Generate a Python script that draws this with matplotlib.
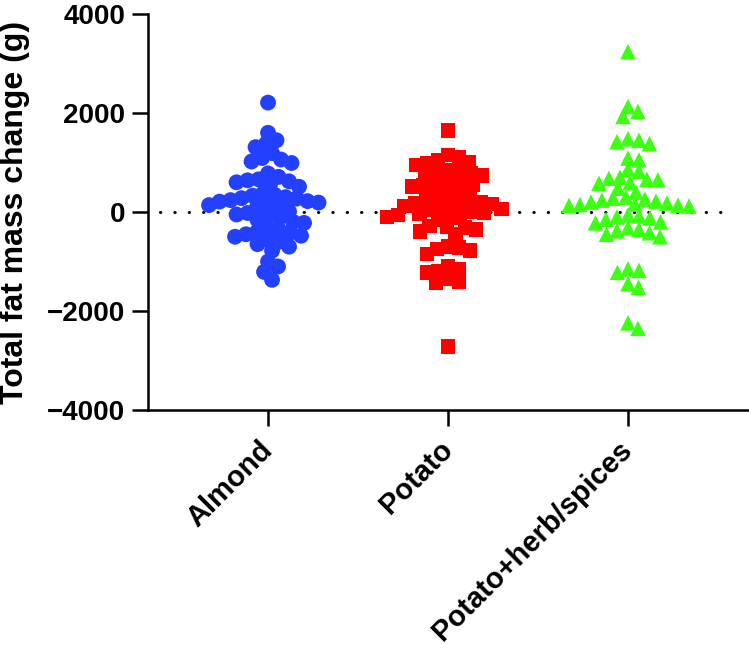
import numpy as np
import matplotlib
matplotlib.use("Agg")
import matplotlib.pyplot as plt

plt.rcParams['font.family'] = ['Liberation Sans', 'DejaVu Sans']
plt.rcParams['font.weight'] = 'bold'

categories = ["Almond", "Potato", "Potato+herb/spices"]

# values (g)
almond = [2210, 1600, 1450, 1380, 1310, 1190, 1090, 1060, 1020, 990, 780,
          710, 660, 640, 620, 600, 560, 510,
          380, 350, 330, 300, 280, 270, 240, 220, 210, 190, 160, 140, 120, 100,
          10, -20, -50, -80, -120, -160, -200, -220,
          -340, -360, -400, -420, -450, -480, -500, -570, -600, -650, -700,
          -780, -1000, -1100, -1210, -1370]
potato = [1640, 1150, 1100, 1050, 1000, 980, 950,
          850, 820, 800, 780, 760, 740, 620, 600, 580, 560, 540, 520,
          350, 330, 300, 280, 260, 200, 180, 160, 140, 120, 100, 80, 60, 40,
          0, -20, -40, -60, -80, -100, -120, -150,
          -280, -300, -320, -350, -400, -450, -700, -720, -750, -780, -850,
          -1100, -1150, -1200, -1220, -1350, -1400, -1420, -2720]
potato_herb = [3240, 2130, 2030, 1930, 1480, 1450, 1420, 1380, 1090, 1050,
               860, 820, 700, 680, 660, 650, 590, 580, 480, 400,
               300, 280, 260, 240, 220, 200, 180, 160, 150, 140, 130, 120,
               -60, -80, -100, -120, -150, -200, -220,
               -320, -350, -380, -420, -450, -500,
               -1150, -1180, -1220, -1450, -1520, -2240, -2350]

groups = [almond, potato, potato_herb]
colors = ['#2440FF', '#FF0000', '#3CFF14']
markers = ['o', 's', '^']
sizes = [130, 112, 125]

W, H, DPI = 749, 653, 100
fig = plt.figure(figsize=(W / DPI, H / DPI), dpi=DPI)
ax = fig.add_axes([148 / W, 1 - 410 / H, (748 - 148) / W, (410 - 14) / H])
ax.set_xlim(-0.667, 2.667)
ax.set_ylim(-4000, 4000)

# pixels per data unit, used for the swarm layout
px_x = (748 - 148) / (2.667 + 0.667)
px_y = (410 - 14) / 8000.0


def swarm(vals, diam):
    # simple beeswarm: each point goes to the smallest free offset
    order = np.argsort(vals)[::-1]
    placed = []
    offs = np.zeros(len(vals))
    for i in order:
        yp = vals[i] * px_y
        done = False
        for step in range(0, 400):
            for cand in ([0.0] if step == 0 else [step * 0.5, -step * 0.5]):
                ok = all((cand - xo) ** 2 + (yp - yo) ** 2 >= diam ** 2
                         for (xo, yo) in placed)
                if ok:
                    offs[i] = cand
                    done = True
                    break
            if done:
                break
        placed.append((offs[i], yp))
    return offs / px_x


for k, vals in enumerate(groups):
    vals = np.array(vals, dtype=float)
    xo = swarm(vals, 11.0)
    ax.scatter(k + xo, vals, s=sizes[k], marker=markers[k], color=colors[k],
               edgecolors='none', zorder=3)

ax.plot([-0.6, 2.58], [0, 0], color='black', lw=2.2,
        linestyle=(0, (0.1, 4.6)), dash_capstyle='round', zorder=2)

ax.set_yticks([-4000, -2000, 0, 2000, 4000])
ax.set_xticks(range(3))
ax.set_xticklabels(categories, rotation=45, ha='right', va='center',
                   rotation_mode='anchor')
ax.tick_params(axis='y', length=11.5, width=1.8, labelsize=20, pad=5)
ax.tick_params(axis='x', length=11.5, width=1.8, labelsize=21, pad=14)
ax.set_ylabel('Total fat mass change (g)', fontsize=23, fontweight='bold')
ax.yaxis.set_label_coords(-(148 - 30) / 600, 0.5)
for side in ['top', 'right']:
    ax.spines[side].set_visible(False)
for side in ['left', 'bottom']:
    ax.spines[side].set_linewidth(1.8)

fig.savefig('out.png', dpi=DPI)
